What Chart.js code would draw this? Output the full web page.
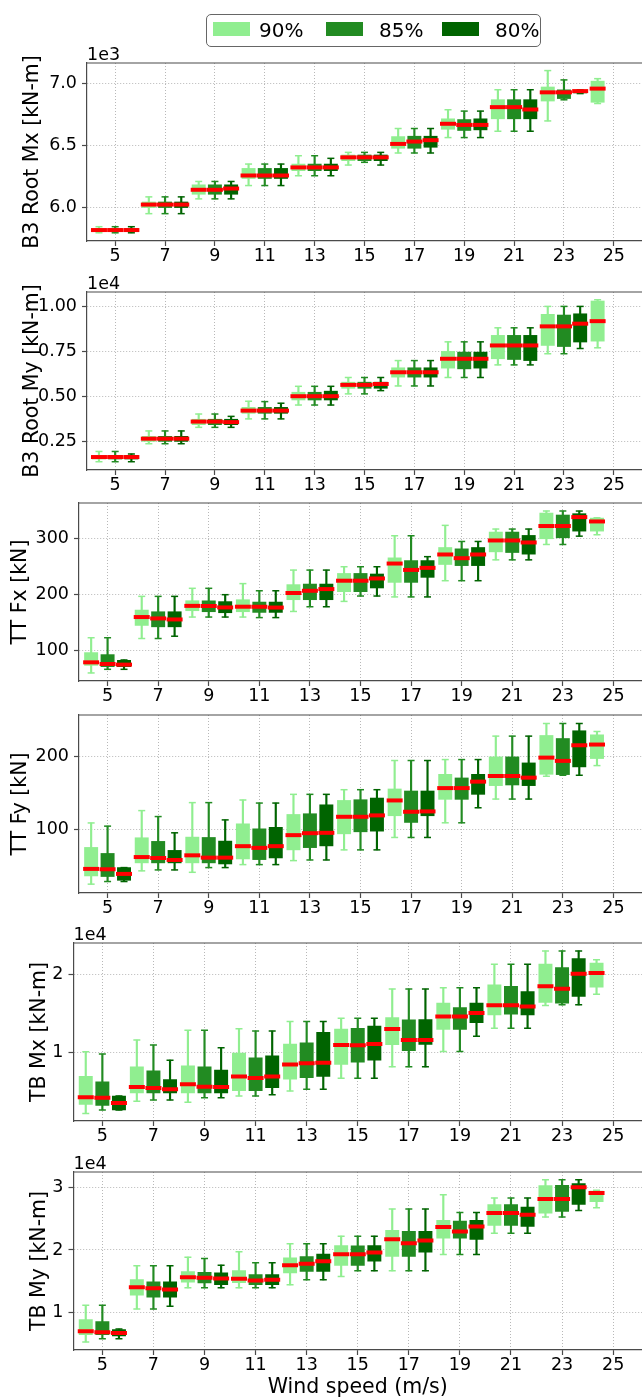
<!DOCTYPE html>
<html>
<head>
<meta charset="utf-8">
<title>Load percentiles by wind speed</title>
<script src="https://cdn.jsdelivr.net/npm/chart.js@4.4.1/dist/chart.umd.min.js"></script>
<style>
  html, body { margin: 0; padding: 0; background: #fff; }
  body { position: relative; width: 642px; height: 1399px; overflow: hidden; font-family: "DejaVu Sans", sans-serif; }
  canvas { position: absolute; left: 0; }
  #legend { position: absolute; left: 206px; top: 14px; width: 335px; height: 33px; box-sizing: border-box;
            border: 1.3px solid #666; border-radius: 5px; background: #fff; z-index: 2; }
  #legend .patch { position: absolute; top: 7px; width: 37px; height: 14px; }
  #legend .lbl { position: absolute; top: 4px; font-size: 20px; line-height: 22px; color: #000; }
</style>
</head>
<body>
<div id="legend"></div>
<script>
Chart.defaults.font.family = "'DejaVu Sans', sans-serif";
Chart.defaults.color = "#000";
Chart.defaults.animation = false;

const windSpeeds = [5, 7, 9, 11, 13, 15, 17, 19, 21, 23, 25];

// each row: [lower whisker, q1, median, q3, upper whisker]
const b3Mx90 = [[5800,5814,5822,5833,5849],[5954,6003,6027,6048,6089],[6073,6110,6146,6186,6213],[6180,6237,6261,6318,6353],[6259,6300,6326,6353,6420],[6345,6380,6407,6426,6447],[6442,6480,6515,6574,6639],[6566,6633,6677,6717,6790],[6617,6717,6811,6871,6951],[6700,6860,6930,6973,7105],[6840,6850,6960,7020,7040]];
const b3Mx85 = [[5800,5814,5822,5833,5849],[5954,6003,6027,6048,6089],[6073,6110,6146,6186,6213],[6180,6237,6261,6318,6353],[6259,6300,6326,6353,6420],[6367,6380,6407,6426,6447],[6442,6480,6534,6577,6639],[6566,6623,6668,6711,6779],[6617,6717,6811,6871,6951],[6870,6880,6930,6950,7030]];
const b3Mx80 = [[5800,5814,5822,5833,5849],[5954,6003,6027,6048,6089],[6073,6110,6156,6186,6213],[6180,6237,6261,6318,6353],[6259,6300,6326,6353,6399],[6345,6380,6407,6426,6447],[6442,6488,6545,6577,6639],[6566,6628,6668,6717,6779],[6617,6717,6792,6871,6951],[6920,6925,6940,6945,6950]];

const b3My90 = [[1350,1500,1610,1700,1920],[2350,2480,2630,2760,3060],[3260,3410,3580,3710,4000],[3730,4040,4190,4370,4710],[4500,4780,4990,5210,5540],[5120,5430,5620,5770,6030],[5560,6050,6320,6570,6970],[6030,6550,7070,7480,8010],[6730,7070,7810,8370,8790],[7350,7810,8870,9540,9980],[7680,8050,9160,10280,10350]];
const b3My85 = [[1350,1500,1610,1700,1920],[2350,2480,2630,2760,3060],[3260,3410,3580,3710,4000],[3730,4040,4190,4370,4690],[4500,4780,4990,5210,5540],[5120,5430,5620,5770,6030],[5560,6050,6320,6570,6970],[6030,6510,7070,7440,8010],[6730,7030,7810,8370,8790],[7350,7750,8870,9500,9980]];
const b3My80 = [[1350,1500,1610,1700,1780],[2350,2480,2630,2760,3060],[3260,3410,3550,3710,3870],[3730,4040,4190,4370,4600],[4500,4780,4990,5270,5540],[5300,5430,5670,5770,6030],[5560,6050,6320,6570,6970],[6030,6550,7070,7440,8010],[6730,6970,7810,8370,8790],[7640,8000,9020,9570,9980]];

const ttFx90 = [[60,73.6,79,96.4,123],[121.6,145,160,172.5,197],[160,171.3,180,189.2,211.4],[160,169.5,178.5,191,219.8],[170,191,203,218,244],[188,205.4,225,238,250],[196,222,255.7,265.9,305.4],[225,254,271.9,284.4,324],[262.3,276.6,297,312,317.4],[289.8,300,322.8,346,349.7],[307.2,313.7,331,337,337.5]];
const ttFx85 = [[66.5,71.3,76,92.8,123],[121.6,142.5,157.5,169.5,197],[160,169.5,179.8,189,211.4],[159,168.3,178.4,186.8,207],[178.4,191,207,219,244],[197.6,205.4,225,238,250],[196,222,244.3,261,305.4],[225,252,265.3,282,295.2],[262.3,275.4,297,312,317.4],[289.8,301.8,322.8,342.5,349.7]];
const ttFx80 = [[66.5,71.3,74.9,82.6,83.2],[125.7,142.5,155.7,169.5,197],[160,167.7,177.2,187.6,200],[159,168.3,177,186.8,207],[178.4,191,210,219,244],[197.6,212,229,237,250],[196,231,248,261,268],[225,252,271.9,284.4,295.2],[262.3,272.5,293.4,306,317.4],[304.7,313.7,338.8,344.9,349.6]];

const ttFy90 = [[24.7,36,45.7,75.3,109],[43,54,62,88.6,126],[41,54,64.4,89.5,137],[51.6,59.4,77,107.8,140.6],[57.1,71.9,92.2,120.7,148.4],[71.9,94,117.5,140,154.8],[89,118.9,140,155.8,195],[109.2,141.5,157,176,196.3],[141.9,160.4,173.7,200,228.6],[173.3,176,199,229.5,246],[188,197.7,217,230.4,235]];
const ttFy85 = [[28.3,35.2,45.2,67,104.6],[44.3,54,60.7,83.6,117.8],[47.5,54,61.2,89,137],[51.6,58.5,74.7,100.9,136.4],[58,75,94.9,121.7,148.4],[71.9,96.8,117.5,141,154.8],[89,109.7,124.4,153,195],[109.2,141.5,157,171,196.3],[141.9,161.3,173.7,200,228.6],[174.7,175.6,194.5,225.3,246]];
const ttFy80 = [[28.3,30,38.8,47.5,47.5],[44.3,54,58,71.2,95.4],[47.5,52.5,61.2,84,113.2],[51.6,60.8,77,103,136.4],[58,77.4,95.4,134,148.4],[71.9,97.7,119.4,143.3,154.8],[89,118.9,124.9,153,195],[129.9,148.4,165.9,176,196.3],[141.9,160.4,171.4,191.7,228.6],[174.7,186.2,216,236,246]];

const tbMx90 = [[2160,3320,4220,6940,10090],[3710,4780,5560,8150,11590],[3580,4780,5910,8280,12840],[4400,5090,6900,9910,13060],[5040,6550,8450,11080,13970],[6680,8450,10950,13020,14400],[8150,10990,13020,14480,18150],[10130,12970,14610,16340,18320],[13100,14830,16080,18710,21340],[16030,16420,18530,21380,23060],[17500,18410,20220,21510,21940]];
const tbMx85 = [[2590,3190,4180,6210,9790],[3880,4780,5430,7630,10950],[4180,4780,5600,8150,12840],[4400,5090,6720,9310,12760],[5260,6770,8620,11250,13970],[6680,8750,10910,13100,14400],[8150,10220,11590,14180,18150],[10130,12970,14610,15780,18320],[13100,14910,16080,18490,21340],[16120,16340,18190,20910,23060]];
const tbMx80 = [[2600,2600,3490,4400,4400],[3880,4780,5260,6510,9010],[4180,4780,5560,7720,10600],[4570,5470,6900,9570,12760],[5260,6900,8660,12590,13970],[6680,9010,11080,13400,14400],[8150,11030,11590,14220,18150],[12070,13840,15090,16340,18320],[13100,14830,15910,17840,21340],[16120,17200,20130,22070,23060]];

const tbMy90 = [[5310,6480,7010,8880,11170],[10590,12770,14050,15280,17470],[13950,14850,15650,16560,18850],[13950,14800,15390,16720,19710],[14430,16350,17570,18750,20990],[15760,17520,19330,20720,22210],[16670,18960,21730,23120,26530],[19280,21890,23650,24720,28830],[22690,23920,25890,27230,28290],[25250,25890,28130,30270,31230],[26750,27710,29090,29410,29520]];
const tbMy85 = [[5840,6480,6850,8560,11170],[10590,12450,13890,14910,17470],[13950,14750,15550,16450,18640],[13950,14480,15120,16080,17950],[15230,16560,17790,18960,20990],[16670,17520,19330,20670,22210],[16670,18960,21090,22960,26530],[19280,21890,22960,24610,26000],[22690,23920,25890,27230,28290],[25250,26160,28130,30320,31230]];
const tbMy80 = [[5840,6270,6750,7280,7390],[11010,12450,13680,14910,17470],[13950,14480,15440,16350,17570],[13950,14480,15230,16080,17950],[15230,16560,18210,19330,20990],[16670,18210,19600,20720,22210],[16670,19650,21520,22960,26530],[19280,21680,23760,24720,26000],[22690,23760,25630,26850,28290],[26320,27280,30000,30590,31230]];

const b3MxTicks = [6000, 6500, 7000];
const b3MyTicks = [2500, 5000, 7500, 10000];
const ttFxTicks = [100, 200, 300];
const ttFyTicks = [100, 200];
const tbMxTicks = [10000, 20000];
const tbMyTicks = [10000, 20000, 30000];

const levels = [
  { name: "90%", color: "#90ee90", shift: -0.65 },
  { name: "85%", color: "#228b22", shift: 0 },
  { name: "80%", color: "#006400", shift: 0.65 },
];

const panels = [
  { title: "B3 Root Mx [kN-m]", boxes: [b3Mx90, b3Mx85, b3Mx80], ticks: b3MxTicks, min: 5734, max: 7166, power: 3, digits: 1, top: 63, left: 87, titlePad: 20.7 },
  { title: "B3 Root My [kN-m]", boxes: [b3My90, b3My85, b3My80], ticks: b3MyTicks, min: 890, max: 10780, power: 4, digits: 2, top: 292, left: 87, titlePad: 20.7 },
  { title: "TT Fx [kN]", boxes: [ttFx90, ttFx85, ttFx80], ticks: ttFxTicks, min: 45.6, max: 364, power: 0, digits: 0, top: 503, left: 79, titlePad: 8.5 },
  { title: "TT Fy [kN]", boxes: [ttFy90, ttFy85, ttFy80], ticks: ttFyTicks, min: 12.5, max: 257.7, power: 0, digits: 0, top: 715, left: 79, titlePad: 8.5 },
  { title: "TB Mx [kN-m]", boxes: [tbMx90, tbMx85, tbMx80], ticks: tbMxTicks, min: 1180, max: 24080, power: 4, digits: 0, top: 943, left: 73.5, titlePad: 27 },
  { title: "TB My [kN-m]", boxes: [tbMy90, tbMy85, tbMy80], ticks: tbMyTicks, min: 4030, max: 32450, power: 4, digits: 0, top: 1172, left: 73.5, titlePad: 27 },
];

const SPINE = "#4a4a4a";
const GRID = "#b8b8b8";

// top edge of the axes frame
const frameTop = {
  id: "frameTop",
  afterDraw(chart) {
    const { ctx, chartArea } = chart;
    ctx.save();
    ctx.strokeStyle = SPINE;
    ctx.lineWidth = 1.2;
    ctx.beginPath();
    ctx.moveTo(chartArea.left, chartArea.top);
    ctx.lineTo(chartArea.right, chartArea.top);
    ctx.stroke();
    ctx.restore();
  },
};

// "1e3" / "1e4" multiplier above the y axis
const offsetText = {
  id: "offsetText",
  afterDraw(chart, args, opts) {
    if (!opts.text) return;
    const { ctx, chartArea } = chart;
    ctx.save();
    ctx.font = "17.5px 'DejaVu Sans', sans-serif";
    ctx.fillStyle = "#000";
    ctx.textAlign = "left";
    ctx.textBaseline = "alphabetic";
    ctx.fillText(opts.text, chartArea.left, chartArea.top - 3);
    ctx.restore();
  },
};

function makeDatasets(p) {
  const out = [];
  levels.forEach((lv, k) => {
    const rows = p.boxes[k];
    const at = (j) => windSpeeds[j] + lv.shift;
    out.push({
      type: "bar", label: lv.name + " range",
      data: rows.map((b, j) => ({ x: at(j), y: [b[0], b[4]] })),
      backgroundColor: lv.color, barThickness: 1.5, grouped: false, order: 3,
    });
    out.push({
      type: "bar", label: lv.name,
      data: rows.map((b, j) => ({ x: at(j), y: [b[1], b[3]] })),
      backgroundColor: lv.color, barThickness: 13.3, grouped: false, order: 2,
    });
    out.push({
      type: "scatter", label: lv.name + " caps",
      data: rows.flatMap((b, j) => [{ x: at(j), y: b[0] }, { x: at(j), y: b[4] }]),
      pointStyle: "line", pointRadius: 3.5, pointBorderWidth: 1.5,
      pointBorderColor: lv.color, pointBackgroundColor: lv.color, order: 1,
    });
    out.push({
      type: "scatter", label: lv.name + " median",
      data: rows.map((b, j) => ({ x: at(j), y: b[2] })),
      pointStyle: "line", pointRadius: 8, pointBorderWidth: 4,
      pointBorderColor: "#ff0000", pointBackgroundColor: "#ff0000", order: 0,
    });
  });
  return out;
}

function drawPanel(p, i) {
  const last = i === panels.length - 1;
  const top = p.top - 25;
  const height = last ? 1399 - top : 233;
  const canvas = document.createElement("canvas");
  canvas.width = 642;
  canvas.height = height;
  canvas.style.top = top + "px";
  canvas.style.width = "642px";
  canvas.style.height = height + "px";
  document.body.appendChild(canvas);

  const gridOpts = { color: GRID, lineWidth: 1, tickColor: SPINE, tickLength: 5, tickWidth: 1.2, offset: false };
  const borderOpts = { color: SPINE, width: 1.2, dash: [1, 2] };

  new Chart(canvas, {
    type: "bar",
    data: { datasets: makeDatasets(p) },
    plugins: [frameTop, offsetText],
    options: {
      responsive: false,
      devicePixelRatio: 1,
      layout: { autoPadding: false, padding: { top: 25, left: 0, right: 0, bottom: 0 } },
      plugins: {
        legend: { display: false },
        tooltip: { enabled: false },
        offsetText: { text: p.power ? "1e" + p.power : "" },
      },
      scales: {
        x: {
          type: "linear", min: 3.87, max: 26.13, offset: false, bounds: "data",
          afterBuildTicks: (s) => { s.ticks = windSpeeds.map((v) => ({ value: v })); },
          afterFit: (s) => {
            s.height = last ? height - 25 - 178 : 30;
            s.paddingLeft = 0;
            s.paddingRight = 0;
          },
          grid: gridOpts, border: borderOpts,
          ticks: { font: { size: 17.5 }, padding: 0, maxRotation: 0, autoSkip: false },
          title: { display: last, text: "Wind speed (m/s)", font: { size: 20.5, lineHeight: 1.1 }, padding: { top: 0, bottom: 0 } },
        },
        y: {
          type: "linear", min: p.min, max: p.max, bounds: "data", beginAtZero: false,
          afterBuildTicks: (s) => { s.ticks = p.ticks.map((v) => ({ value: v })); },
          afterFit: (s) => {
            s.width = p.left;
            s.paddingTop = 0;
            s.paddingBottom = 0;
          },
          grid: gridOpts, border: borderOpts,
          ticks: { font: { size: 17.5 }, padding: 5, callback: (v) => (v / Math.pow(10, p.power)).toFixed(p.digits) },
          title: { display: true, text: p.title, font: { size: 20.5 }, padding: { top: p.titlePad, bottom: 0 } },
        },
      },
    },
  });
}

function drawLegend() {
  const box = document.getElementById("legend");
  const patchX = [6, 119, 235];
  const textX = [52, 172, 288];
  box.innerHTML = levels.map((lv, k) =>
    `<div class="patch" style="left:${patchX[k]}px;background:${lv.color}"></div>` +
    `<div class="lbl" style="left:${textX[k]}px">${lv.name}</div>`
  ).join("");
}

drawLegend();
panels.forEach(drawPanel);
</script>
</body>
</html>
